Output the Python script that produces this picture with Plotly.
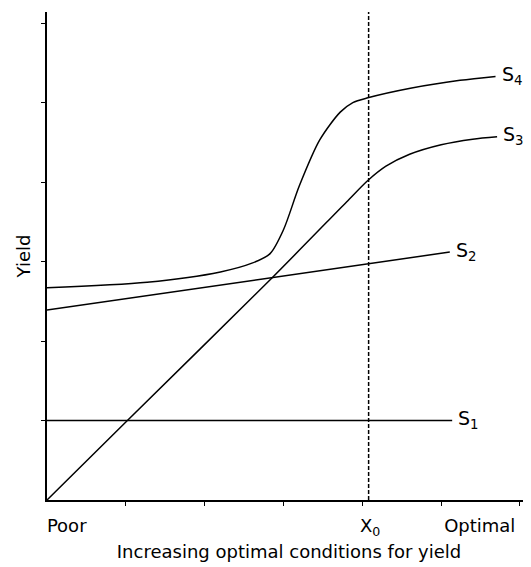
import plotly.graph_objects as go

# ---- data (axis units; ticks at 1..6) ----
x0 = 4.08  # position of X0

s1_x = [0.0, 5.14]
s1_y = [1.0, 1.0]

s2_x = [0.0, 5.11]
s2_y = [2.39, 3.12]

s3_x = [0.0, 1.02, 2.86, 3.80, 4.07, 4.30, 4.60, 5.00, 5.40, 5.71]
s3_y = [0.0, 1.0, 2.80, 3.75, 4.02, 4.20, 4.35, 4.47, 4.54, 4.57]

s4_x = [0.0, 1.27, 2.20, 2.60, 2.83, 3.00, 3.20, 3.46, 3.72, 3.88, 4.07, 4.61, 5.24, 5.69]
s4_y = [2.67, 2.74, 2.87, 2.98, 3.10, 3.40, 3.95, 4.53, 4.88, 5.00, 5.06, 5.18, 5.28, 5.33]

series_names = ["S<sub>1</sub>", "S<sub>2</sub>", "S<sub>3</sub>", "S<sub>4</sub>"]
x_tick_vals = [1, 2, 3, 4, 5, 6]
y_tick_vals = [1, 2, 3, 4, 5, 6]
x_label_pos = [0.25, 4.1, 5.49]
x_label_text = ["Poor", "X<sub>0</sub>", "Optimal"]
axis_max = 6.14

FONT = "DejaVu Sans"
line_style = dict(color="black", width=1.5)

fig = go.Figure()
series = [(s1_x, s1_y, "linear"), (s2_x, s2_y, "linear"), (s3_x, s3_y, "spline"), (s4_x, s4_y, "spline")]
for (xs, ys, shape), name in zip(series, series_names):
    fig.add_trace(go.Scatter(x=xs, y=ys, mode="lines", line=dict(shape=shape, smoothing=0.8, **line_style),
                             name=name, showlegend=False, hoverinfo="skip"))
    fig.add_annotation(x=xs[-1], y=ys[-1], text=name, showarrow=False, xanchor="left",
                       xshift=4, yshift=1, font=dict(family=FONT, size=19, color="black"))

# dashed X0 line
fig.add_trace(go.Scatter(x=[x0, x0], y=[0, axis_max], mode="lines",
                         line=dict(color="black", width=1.5, dash="4px,2px"),
                         showlegend=False, hoverinfo="skip"))

# invisible trace for label axis
fig.add_trace(go.Scatter(x=[x0], y=[0], xaxis="x2", mode="markers", marker=dict(opacity=0),
                         showlegend=False, hoverinfo="skip"))

# page body has an 8px margin: figure is sized/margined so the plot lands where the reference has it
fig.update_layout(
    width=523, height=559,
    margin=dict(l=39, r=0, t=4, b=67, autoexpand=False),
    paper_bgcolor="white", plot_bgcolor="white",
    font=dict(family=FONT, size=18, color="black"),
    xaxis=dict(range=[0, axis_max], showgrid=False, zeroline=False, showline=True,
               linecolor="black", linewidth=1.5, ticks="outside", ticklen=4,
               tickwidth=1, tickcolor="black", tickvals=x_tick_vals, showticklabels=False),
    xaxis2=dict(range=[0, axis_max], overlaying="x", side="bottom", anchor="y",
                showgrid=False, zeroline=False, showline=False, ticks="",
                tickvals=x_label_pos, ticktext=x_label_text, ticklabelstandoff=13,
                tickfont=dict(family=FONT, size=18, color="black"),
                title=dict(text="Increasing optimal conditions for yield", standoff=7,
                           font=dict(family=FONT, size=18, color="black"))),
    yaxis=dict(range=[0, axis_max], showgrid=False, zeroline=False, showline=True,
               linecolor="black", linewidth=1.5, ticks="outside", ticklen=4,
               tickwidth=1, tickcolor="black", tickvals=y_tick_vals, showticklabels=False,
               title=dict(text="Yield", standoff=6, font=dict(family=FONT, size=18, color="black"))),
)

fig.write_html("out.html")
